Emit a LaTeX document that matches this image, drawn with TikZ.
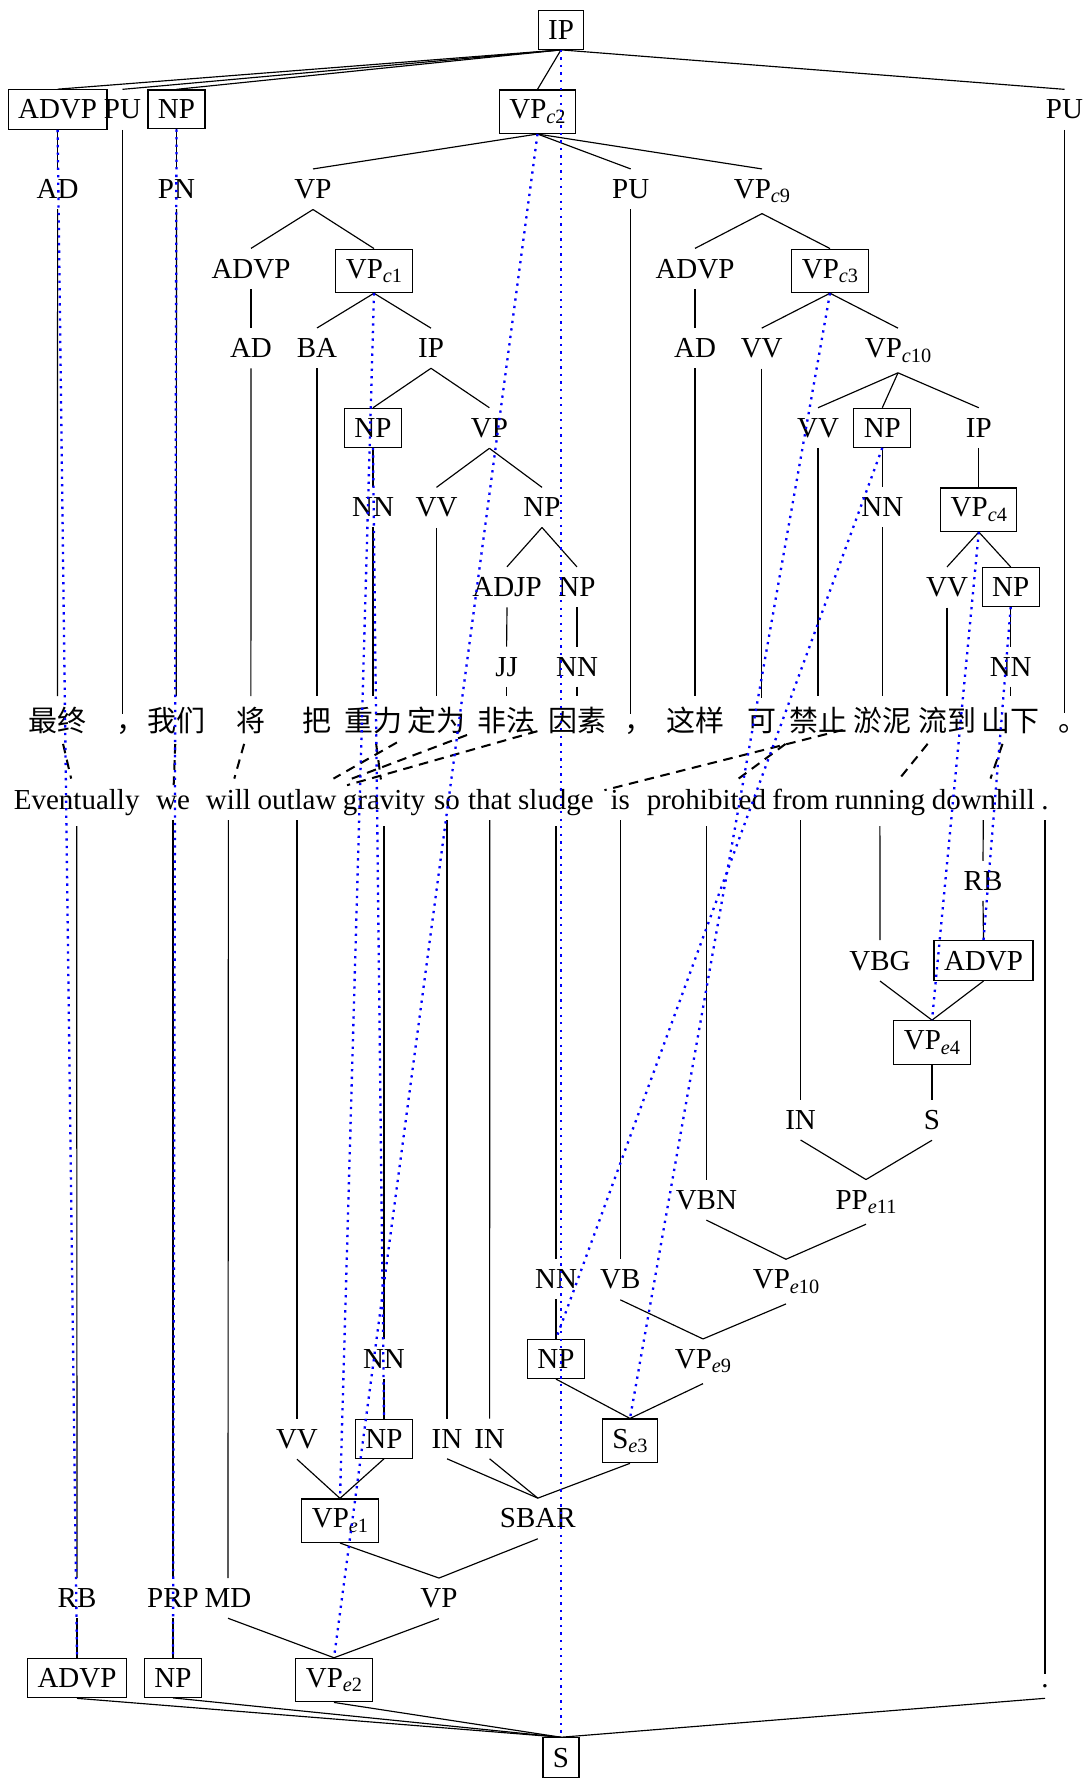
\documentclass[tikz,border=0pt]{standalone}
\usepackage{fontspec}
\setmainfont{Liberation Serif}
\newfontfamily\cjk{Noto Sans CJK SC}
\newcommand\lsub[2]{\raisebox{-1.5pt}{\fontsize{7}{7}\selectfont\textit{#1}#2}}
\newcommand\zpunct[1]{\kern0.3em#1\kern-0.3em}
\begin{document}
\begin{tikzpicture}[x=0.345pt,y=-0.345pt,
  every node/.style={font=\fontsize{10}{12}\selectfont, inner sep=3.45pt, anchor=base},
  bx/.style={draw, line width=0.4pt},
  zh/.style={font=\fontsize{10}{12}\selectfont\cjk},
  trl/.style={line width=0.4pt},
  algn/.style={line width=0.7pt, dash pattern=on 3.3pt off 2.3pt},
  xlink/.style={blue, line width=0.8pt, dash pattern=on 0.8pt off 1.8pt}]
\useasboundingbox (0,0) rectangle (1088,1778);
% ---------- Chinese tree ----------
\node[bx] (ip) at (561,39.3) {IP};
\node[bx] (advp1) at (57.6,118.9) {ADVP};
\node (pu1) at (122.5,118.9) {PU};
\node[bx] (np1) at (176.5,118.9) {NP};
\node[bx] (vpc2) at (537.5,118.9) {VP\lsub{c}{2}};
\node (pu2) at (1064.5,118.9) {PU};
\node (ad1) at (57.6,198.5) {AD};
\node (pn) at (176.5,198.5) {PN};
\node (vp2) at (313,198.5) {VP};
\node (pu3) at (630.7,198.5) {PU};
\node (vpc9) at (762,198.5) {VP\lsub{c}{9}};
\node (advp2) at (251,278.1) {ADVP};
\node[bx] (vpc1) at (374,278.1) {VP\lsub{c}{1}};
\node (advp3) at (695,278.1) {ADVP};
\node[bx] (vpc3) at (830,278.1) {VP\lsub{c}{3}};
\node (ad2) at (251,357.7) {AD};
\node (ba) at (317,357.7) {BA};
\node (ip2) at (431,357.7) {IP};
\node (ad3) at (695,357.7) {AD};
\node (vv1) at (761.7,357.7) {VV};
\node (vpc10) at (898,357.7) {VP\lsub{c}{10}};
\node[bx] (np2) at (373,437.3) {NP};
\node (vp3) at (489.4,437.3) {VP};
\node (vv2) at (818,437.3) {VV};
\node[bx] (np3) at (882.3,437.3) {NP};
\node (ip3) at (978.8,437.3) {IP};
\node (nn1) at (373,516.9) {NN};
\node (vv3) at (436.5,516.9) {VV};
\node (np4) at (542,516.9) {NP};
\node (nn2) at (882.3,516.9) {NN};
\node[bx] (vpc4) at (978.8,516.9) {VP\lsub{c}{4}};
\node (adjp) at (507,596.5) {ADJP};
\node (np5) at (577,596.5) {NP};
\node (vv4) at (947,596.5) {VV};
\node[bx] (np6) at (1010.7,596.5) {NP};
\node (jj) at (506.6,676.1) {JJ};
\node (nn3) at (577,676.1) {NN};
\node (nn4) at (1010.7,676.1) {NN};
% ---------- Chinese words ----------
\node[zh] (z1) at (57.5,731) {最终};
\node[zh] (z2) at (122.5,731) {\zpunct{，}};
\node[zh] (z3) at (176.2,731) {我们};
\node[zh] (z4) at (250.9,731) {将};
\node[zh] (z5) at (317,731) {把};
\node[zh] (z6) at (373,731) {重力};
\node[zh] (z7) at (436.5,731) {定为};
\node[zh] (z8) at (506.6,731) {非法};
\node[zh] (z9) at (577,731) {因素};
\node[zh] (z10) at (630.7,731) {\zpunct{，}};
\node[zh] (z11) at (695,731) {这样};
\node[zh] (z12) at (761.7,731) {可};
\node[zh] (z13) at (818,731) {禁止};
\node[zh] (z14) at (882.3,731) {淤泥};
\node[zh] (z15) at (947,731) {流到};
\node[zh] (z16) at (1010.7,731) {山下};
\node[zh] (z17) at (1064.5,731) {\zpunct{。}};
% ---------- English words ----------
\node (e1) at (76.7,809.3) {Eventually};
\node (e2) at (173,809.3) {we};
\node (e3) at (228.4,809.3) {will};
\node (e4) at (297,809.3) {outlaw};
\node (e5) at (384,809.3) {gravity};
\node (e6) at (447,809.3) {so};
\node (e7) at (489.8,809.3) {that};
\node (e8) at (556,809.3) {sludge};
\node (e9) at (620.3,809.3) {is};
\node (e10) at (706.4,809.3) {prohibited};
\node (e11) at (800.6,809.3) {from};
\node (e12) at (879.9,809.3) {running};
\node (e13) at (983.3,809.3) {downhill};
\node (e14) at (1045,809.3) {.};
% ---------- English tree ----------
\node (rb1) at (983,890.3) {RB};
\node (vbg) at (880,970) {VBG};
\node[bx] (advpe1) at (983.5,970) {ADVP};
\node[bx] (vpe4) at (932,1049.7) {VP\lsub{e}{4}};
\node (in1) at (800.6,1129.4) {IN};
\node (s1) at (932,1129.4) {S};
\node (vbn) at (706.4,1209.1) {VBN};
\node (ppe11) at (866,1209.1) {PP\lsub{e}{11}};
\node (nn5) at (556,1288.8) {NN};
\node (vb) at (620.3,1288.8) {VB};
\node (vpe10) at (786,1288.8) {VP\lsub{e}{10}};
\node (nn6) at (384,1368.5) {NN};
\node[bx] (npe1) at (556,1368.5) {NP};
\node (vpe9) at (703,1368.5) {VP\lsub{e}{9}};
\node (vv5) at (297,1448.2) {VV};
\node[bx] (npe2) at (384,1448.2) {NP};
\node (in2) at (447,1448.2) {IN};
\node (in3) at (489.6,1448.2) {IN};
\node[bx] (se3) at (630,1448.2) {S\lsub{e}{3}};
\node[bx] (vpe1) at (340,1527.9) {VP\lsub{e}{1}};
\node (sbar) at (537.8,1527.9) {SBAR};
\node (rb2) at (77,1607.6) {RB};
\node (prp) at (173,1607.6) {PRP};
\node (md) at (228,1607.6) {MD};
\node (vpe) at (439,1607.6) {VP};
\node[bx] (advpe2) at (77,1687.3) {ADVP};
\node[bx] (npe3) at (173,1687.3) {NP};
\node[bx] (vpe2) at (334,1687.3) {VP\lsub{e}{2}};
\node (dot) at (1045,1687.3) {.};
\node[bx] (se) at (561,1767) {S};
% ---------- Chinese tree edges ----------
\foreach \p/\c in {ip/advp1, ip/pu1, ip/np1, ip/vpc2, ip/pu2, advp1/ad1, np1/pn,
  vpc2/vp2, vpc2/pu3, vpc2/vpc9, vp2/advp2, vp2/vpc1, advp2/ad2, vpc1/ba, vpc1/ip2,
  ip2/np2, ip2/vp3, np2/nn1, vp3/vv3, vp3/np4, np4/adjp, np4/np5, adjp/jj, np5/nn3,
  vpc9/advp3, vpc9/vpc3, advp3/ad3, vpc3/vv1, vpc3/vpc10, vpc10/vv2, vpc10/np3,
  vpc10/ip3, np3/nn2, ip3/vpc4, vpc4/vv4, vpc4/np6, np6/nn4,
  ad1/z1, pu1/z2, pn/z3, ad2/z4, ba/z5, nn1/z6, vv3/z7, jj/z8, nn3/z9, pu3/z10,
  ad3/z11, vv1/z12, vv2/z13, nn2/z14, vv4/z15, nn4/z16, pu2/z17}
  \draw[trl] (\p.south) -- (\c.north);
% ---------- English tree edges ----------
\foreach \c/\p in {e1/rb2, e2/prp, e3/md, e4/vv5, e5/nn6, e6/in2, e7/in3, e8/nn5,
  e9/vb, e10/vbn, e11/in1, e12/vbg, e13/rb1, e14/dot,
  rb1/advpe1, vbg/vpe4, advpe1/vpe4, vpe4/s1, in1/ppe11, s1/ppe11, vbn/vpe10,
  ppe11/vpe10, vb/vpe9, vpe10/vpe9, nn5/npe1, npe1/se3, vpe9/se3, nn6/npe2,
  vv5/vpe1, npe2/vpe1, in2/sbar, in3/sbar, se3/sbar, vpe1/vpe, sbar/vpe,
  md/vpe2, vpe/vpe2, rb2/advpe2, prp/npe3, advpe2/se, npe3/se, vpe2/se, dot/se}
  \draw[trl] (\c.south) -- (\p.north);
% ---------- word alignments ----------
\foreach \a/\b in {z1/e1, z3/e2, z4/e3, z6/e5, z7/e4, z8/e4, z9/e4, z14/e8,
  z13/e10, z15/e12, z16/e13}
  \draw[algn] (\a) -- (\b);
% ---------- node links ----------
\foreach \a/\b in {ip/se, advp1/advpe2, np1/npe3, vpc2/vpe2, vpc1/vpe1, np2/npe2,
  vpc3/se3, np3/npe1, vpc4/vpe4, np6/advpe1}
  \draw[xlink] (\a.south) -- (\b.north);
\end{tikzpicture}
\end{document}
